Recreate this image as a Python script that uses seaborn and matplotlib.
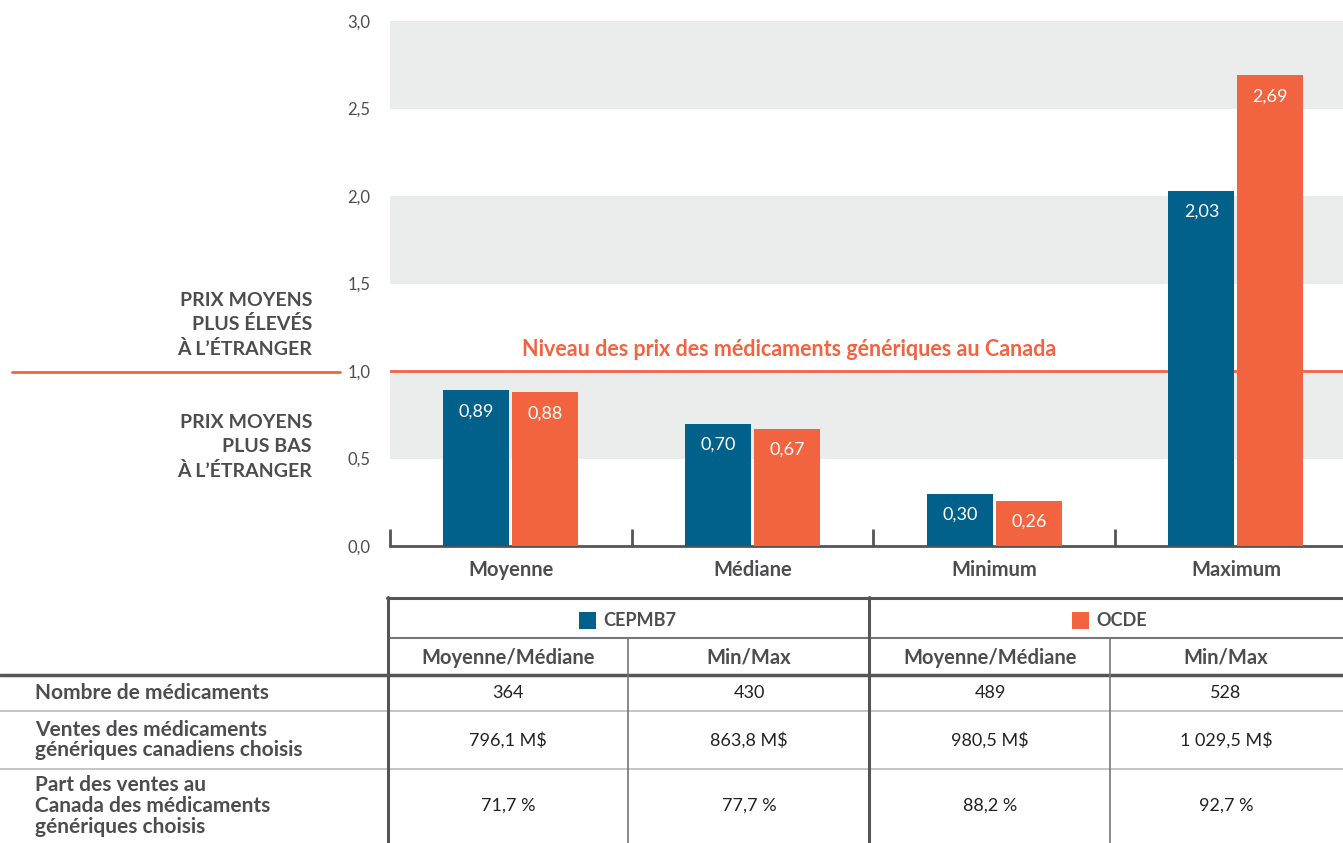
import matplotlib.pyplot as plt
import matplotlib.patches as mpatches
import matplotlib.lines as mlines
import pandas as pd
import seaborn as sns

categories = ["Moyenne", "Médiane", "Minimum", "Maximum"]
series = ["CEPMB7", "OCDE"]
cepmb7_values = [0.89, 0.70, 0.30, 2.03]
ocde_values = [0.88, 0.67, 0.26, 2.69]
y_ticks = [0.0, 0.5, 1.0, 1.5, 2.0, 2.5, 3.0]

col_headers = ["Moyenne/Médiane", "Min/Max", "Moyenne/Médiane", "Min/Max"]
row_labels = [
    "Nombre de médicaments",
    "Ventes des médicaments\ngénériques canadiens choisis",
    "Part des ventes au\nCanada des médicaments\ngénériques choisis",
]
table_values = [
    ["364", "430", "489", "528"],
    ["796,1 M$", "863,8 M$", "980,5 M$", "1 029,5 M$"],
    ["71,7 %", "77,7 %", "88,2 %", "92,7 %"],
]

BLUE = "#02618a"
ORANGE = "#f26440"
BAND = "#ebedec"
DARK = "#4d4d4f"

sns.set_theme(style="white")
plt.rcParams["font.family"] = ["Lato", "DejaVu Sans"]

W, H = 1343, 843
fig = plt.figure(figsize=(W / 100, H / 100), dpi=100)


def fx(px):
    return px / W


def fy(py):
    return 1 - py / H


ax = fig.add_axes([fx(390), fy(546), fx(1343 - 390), 525 / H])

df = pd.DataFrame({
    "cat": categories * 2,
    "serie": [series[0]] * 4 + [series[1]] * 4,
    "val": cepmb7_values + ocde_values,
})

for lo in [0.5, 1.5, 2.5]:
    ax.axhspan(lo, lo + 0.5, color=BAND, zorder=0, lw=0)

sns.barplot(data=df, x="cat", y="val", hue="serie", order=categories,
            hue_order=series, palette=[BLUE, ORANGE], width=0.571, gap=0.044,
            saturation=1, legend=False, linewidth=0, ax=ax, zorder=3)

for cont in ax.containers:
    labels = [f"{b.get_height():.2f}".replace(".", ",") for b in cont]
    ax.bar_label(cont, labels=labels, padding=-21, color="white",
                 fontsize=13)

ax.axhline(1.0, color=ORANGE, lw=2, zorder=2)
fig.add_artist(mlines.Line2D([fx(12), fx(340)], [fy(372), fy(372)],
                             color=ORANGE, lw=2))

ax.set_ylim(0, 3.0)
ax.set_xlim(-0.5, 3.443)
ax.set_yticks(y_ticks)
ax.set_yticklabels([f"{t:.1f}".replace(".", ",") for t in y_ticks],
                   color=DARK, fontsize=12)
ax.tick_params(axis="y", length=0, pad=14)
ax.tick_params(axis="x", which="major", length=0, pad=10)
ax.set_xticks([-0.5, 0.5, 1.5, 2.5], minor=True)
ax.tick_params(axis="x", which="minor", bottom=True, direction="in",
               length=12, width=2, color="#555555")
for lbl in ax.get_xticklabels():
    lbl.set_fontweight("bold")
    lbl.set_fontsize(14.5)
    lbl.set_color(DARK)
ax.set_xlabel("")
ax.set_ylabel("")
for s in ["top", "right", "left"]:
    ax.spines[s].set_visible(False)
ax.spines["bottom"].set_color("#555555")
ax.spines["bottom"].set_linewidth(2)
ax.grid(False)

ax.text(1.15, 1.06, "Niveau des prix des médicaments génériques au Canada",
        ha="center", va="bottom", color=ORANGE, fontsize=15.5,
        fontweight="bold")

fig.text(fx(312), fy(325), "PRIX MOYENS\nPLUS ÉLEVÉS\nÀ L’ÉTRANGER", ha="right",
         va="center", fontsize=14, fontweight="bold", color=DARK,
         linespacing=1.45)
fig.text(fx(312), fy(447), "PRIX MOYENS\nPLUS BAS\nÀ L’ÉTRANGER", ha="right",
         va="center", fontsize=14, fontweight="bold", color=DARK,
         linespacing=1.45)


# table below the chart
def hline(y, x0, x1, lw, color):
    fig.add_artist(mlines.Line2D([fx(x0), fx(x1)], [fy(y), fy(y)],
                                 lw=lw, color=color))


def vline(x, y0, y1, lw, color):
    fig.add_artist(mlines.Line2D([fx(x), fx(x)], [fy(y0), fy(y1)],
                                 lw=lw, color=color))


hline(598, 387, 1343, 2.2, "#555555")
hline(638, 388, 1343, 1.5, "#777777")
hline(675, 0, 1343, 2.5, "#555555")
hline(711, 0, 1343, 1.2, "#bbbbbb")
hline(769, 0, 1343, 1.2, "#bbbbbb")
vline(388, 597, 843, 2.2, "#555555")
vline(869, 597, 843, 2.2, "#555555")
vline(628, 638, 843, 1.2, "#777777")
vline(1110, 638, 843, 1.2, "#777777")

for sq_x, name, color in [(579, series[0], BLUE), (1072, series[1], ORANGE)]:
    fig.add_artist(mpatches.Rectangle((fx(sq_x), fy(629)), fx(17), 17 / H,
                                      color=color, lw=0))
    fig.text(fx(sq_x + 24), fy(620), name, ha="left", va="center",
             fontsize=13, fontweight="bold", color=DARK)

col_centers = [508, 749, 990, 1226]
for cx, hdr in zip(col_centers, col_headers):
    fig.text(fx(cx), fy(658), hdr, ha="center", va="center", fontsize=14.5,
             fontweight="bold", color=DARK)

row_centers = [693, 740, 806]
for ry, lab, vals in zip(row_centers, row_labels, table_values):
    fig.text(fx(35), fy(ry), lab, ha="left", va="center", fontsize=15,
             fontweight="bold", color=DARK, linespacing=1.05)
    for cx, v in zip(col_centers, vals):
        fig.text(fx(cx), fy(ry), v, ha="center", va="center", fontsize=13,
                 color="#222222")

fig.savefig("out.png", dpi=100)
